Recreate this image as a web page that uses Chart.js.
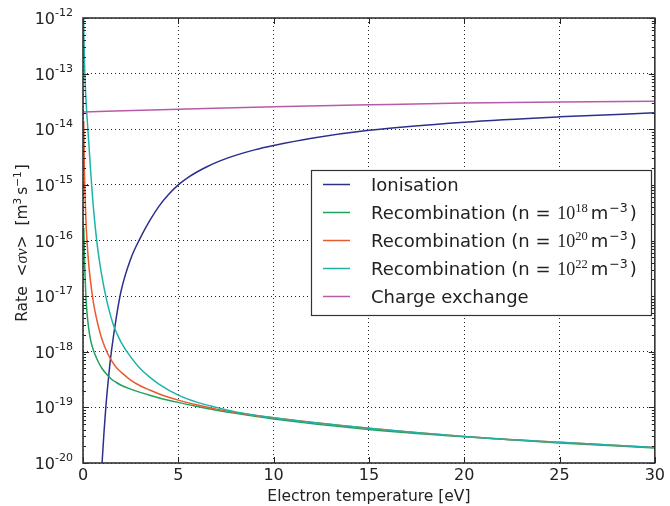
<!DOCTYPE html>
<html lang="en">
<head>
<meta charset="UTF-8">
<script src="https://cdn.jsdelivr.net/npm/chart.js"></script>
<style>
  html, body { margin: 0; padding: 0; background: #fff; }
  canvas { display: block; }
</style>
</head>
<body>
<canvas id="rates" width="670" height="506"></canvas>
<script>
// electron temperature [eV] and rate coefficients <sigma v> [m^3 s^-1]
const ionTemp = [0.95, 1.0, 1.1, 1.2, 1.3, 1.4, 1.5, 1.75, 2, 2.5, 3, 3.5, 4, 4.5, 5, 5.5, 6, 6.5, 7, 7.5, 8, 9, 10,
                 12, 15, 20, 25, 30];
const ionRate = [4.7e-21, 1.0e-20, 3.5e-20, 1.03e-19, 2.5e-19, 5.5e-19, 1.08e-18, 4.2e-18, 1.25e-17, 4.65e-17, 1.1e-16,
                 2.27e-16, 4.2e-16, 6.8e-16, 1.0e-15, 1.35e-15, 1.72e-15, 2.12e-15, 2.54e-15, 2.96e-15, 3.39e-15,
                 4.26e-15, 5.1e-15, 6.9e-15, 9.6e-15, 1.34e-14, 1.67e-14, 1.97e-14];

// recombination, n = 1e18 and 1e20 m^-3
const recTemp = [0.04, 0.06, 0.08, 0.1, 0.15, 0.2, 0.3, 0.4, 0.5, 0.6, 0.8, 1.0, 1.25, 1.5, 1.75, 2, 2.5, 3, 3.5, 4,
                 5, 6, 7, 8, 10, 15, 20, 25, 30];
const rec18 = [1.7e-16, 9.1e-17, 4.6e-17, 2.7e-17, 1.02e-17, 5.5e-18, 2.6e-18, 1.62e-18, 1.2e-18, 9.5e-19, 6.6e-19,
               5.0e-19, 3.9e-19, 3.2e-19, 2.8e-19, 2.5e-19, 2.13e-19, 1.86e-19, 1.65e-19, 1.48e-19, 1.23e-19, 1.04e-19,
               8.9e-20, 7.8e-20, 6.2e-20, 4.0e-20, 2.95e-20, 2.3e-20, 1.86e-20];
const rec20 = [1.4e-14, 3.7e-15, 1.48e-15, 7.6e-16, 2.45e-16, 1.12e-16, 3.8e-17, 1.78e-17, 9.8e-18, 6.0e-18, 2.9e-18,
               1.66e-18, 1.0e-18, 6.9e-19, 5.2e-19, 4.3e-19, 3.1e-19, 2.45e-19, 2.05e-19, 1.74e-19, 1.35e-19, 1.1e-19,
               9.3e-20, 8.1e-20, 6.5e-20, 4.2e-20, 3.0e-20, 2.35e-20, 1.9e-20];

// recombination, n = 1e22 m^-3 (runs off the top of the axis)
const rec22Temp = [0.025, 0.04, 0.07, 0.1, 0.15, 0.2, 0.3, 0.4, 0.5, 0.6, 0.7, 0.8, 0.9, 1.0, 1.2, 1.4, 1.6, 1.8, 2.0,
                   2.5, 3.0, 3.5, 4.0, 5, 6, 7, 8, 10, 15, 20, 25, 30];
const rec22 = [1.9e-12, 6.8e-13, 2.0e-13, 9.1e-14, 3.7e-14, 1.9e-14, 6.0e-15, 1.78e-15, 6.0e-16, 2.45e-16, 1.15e-16,
               6.0e-17, 3.55e-17, 2.2e-17, 9.8e-18, 5.1e-18, 3.0e-18, 2.05e-18, 1.48e-18, 8.1e-19, 5.0e-19, 3.5e-19,
               2.6e-19, 1.66e-19, 1.23e-19, 1.0e-19, 8.3e-20, 6.5e-20, 4.2e-20, 3.0e-20, 2.35e-20, 1.9e-20];

const cxTemp = [0, 5, 10, 15, 20, 25, 30];
const cxRate = [2.05e-14, 2.3e-14, 2.55e-14, 2.75e-14, 2.95e-14, 3.1e-14, 3.2e-14];

// decades shown on the rate axis, and minor tick mantissas
const yExps = [-20, -19, -18, -17, -16, -15, -14, -13, -12];
const minorMant = [2, 3, 4, 5, 6, 7, 8, 9];

const SANS = '"DejaVu Sans", sans-serif';
const SERIF = '"Liberation Serif", serif';

const colors = {
  ion: '#2c2f8b',
  r18: '#1fa25c',
  r20: '#eb5a2c',
  r22: '#1db3ab',
  cx: '#b95aa9'
};

function pts(xs, ys) {
  return xs.map((t, i) => ({ x: t, y: ys[i] }));
}

function series(label, xs, ys, color, order) {
  return {
    label: label,
    data: pts(xs, ys),
    borderColor: color,
    backgroundColor: color,
    borderWidth: 1.5,
    pointRadius: 0,
    showLine: true,
    cubicInterpolationMode: 'monotone',
    order: order
  };
}

// text runs with their own font and baseline shift
function richWidth(ctx, parts) {
  let w = 0;
  parts.forEach(p => { ctx.font = p.font; w += ctx.measureText(p.text).width + (p.gap || 0); });
  return w;
}
function drawRich(ctx, parts, x, y) {
  parts.forEach(p => {
    ctx.font = p.font;
    ctx.fillText(p.text, x, y + (p.dy || 0));
    x += ctx.measureText(p.text).width + (p.gap || 0);
  });
  return x;
}

const legendRows = [
  { color: colors.ion, parts: [{ text: 'Ionisation', font: '18px ' + SANS }] },
  { color: colors.r18, exp: '18' },
  { color: colors.r20, exp: '20' },
  { color: colors.r22, exp: '22' },
  { color: colors.cx, parts: [{ text: 'Charge exchange', font: '18px ' + SANS }] }
];

function densityParts(exp) {
  return [
    { text: 'Recombination (n = ', font: '18px ' + SANS, gap: 1 },
    { text: '10', font: '18px ' + SERIF },
    { text: exp, font: '12.5px ' + SERIF, dy: -7, gap: 3 },
    { text: 'm', font: '18px ' + SANS, gap: 1 },
    { text: '\u22123', font: '12.5px ' + SANS, dy: -7, gap: 2 },
    { text: ')', font: '18px ' + SANS }
  ];
}

const decor = {
  id: 'decor',
  afterDraw(chart) {
    const { ctx, chartArea: a, scales: { x, y } } = chart;
    ctx.save();

    // inward ticks on all four sides
    ctx.strokeStyle = '#222';
    ctx.lineWidth = 1;
    ctx.beginPath();
    yExps.forEach(e => {
      const py = Math.round(y.getPixelForValue(Math.pow(10, e))) + 0.5;
      ctx.moveTo(a.left, py); ctx.lineTo(a.left + 6, py);
      ctx.moveTo(a.right, py); ctx.lineTo(a.right - 6, py);
      if (e < -12) {
        minorMant.forEach(m => {
          const pm = Math.round(y.getPixelForValue(m * Math.pow(10, e))) + 0.5;
          ctx.moveTo(a.left, pm); ctx.lineTo(a.left + 3, pm);
          ctx.moveTo(a.right, pm); ctx.lineTo(a.right - 3, pm);
        });
      }
    });
    x.ticks.forEach(t => {
      const px = Math.round(x.getPixelForValue(t.value)) + 0.5;
      ctx.moveTo(px, a.bottom); ctx.lineTo(px, a.bottom - 6);
      ctx.moveTo(px, a.top); ctx.lineTo(px, a.top + 6);
    });
    ctx.stroke();

    // frame
    ctx.strokeStyle = '#333';
    ctx.lineWidth = 1.6;
    ctx.strokeRect(a.left, a.top, a.right - a.left, a.bottom - a.top);

    // rate axis labels 10^n
    ctx.fillStyle = '#222';
    ctx.textBaseline = 'alphabetic';
    ctx.textAlign = 'left';
    yExps.forEach(e => {
      const py = y.getPixelForValue(Math.pow(10, e));
      const parts = [
        { text: '10', font: '16px ' + SANS },
        { text: '-' + Math.abs(e), font: '11px ' + SANS, dy: -8 }
      ];
      const w = richWidth(ctx, parts);
      drawRich(ctx, parts, a.left - 10 - w, py + 6);
    });

    // rate axis title, rotated
    const title = [
      { text: 'Rate  ', font: '15.5px ' + SANS },
      { text: '<', font: '15.5px ' + SANS },
      { text: '\u03c3v', font: 'italic 16px ' + SERIF },
      { text: '>  [m', font: '15.5px ' + SANS },
      { text: '3', font: '10.5px ' + SANS, dy: -6, gap: 3 },
      { text: 's', font: '15.5px ' + SANS },
      { text: '\u22121', font: '10.5px ' + SANS, dy: -6, gap: 1 },
      { text: ']', font: '15.5px ' + SANS }
    ];
    const tw = richWidth(ctx, title);
    ctx.save();
    ctx.translate(27, 243);
    ctx.rotate(-Math.PI / 2);
    drawRich(ctx, title, -tw / 2, 0);
    ctx.restore();

    // legend box
    const bx = 311, by = 170, bw = 340, bh = 145;
    ctx.fillStyle = '#fff';
    ctx.fillRect(bx, by, bw, bh);
    ctx.strokeStyle = '#333';
    ctx.lineWidth = 1.2;
    ctx.strokeRect(bx + 0.5, by + 0.5, bw, bh);
    legendRows.forEach((row, i) => {
      const cy = 184.5 + i * 28;
      ctx.strokeStyle = row.color;
      ctx.lineWidth = 1.5;
      ctx.beginPath();
      ctx.moveTo(323, cy); ctx.lineTo(350, cy);
      ctx.stroke();
      ctx.fillStyle = '#222';
      drawRich(ctx, row.parts || densityParts(row.exp), 371, cy + 6.5);
    });

    ctx.restore();
  }
};

new Chart(document.getElementById('rates'), {
  type: 'scatter',
  data: {
    datasets: [
      series('Ionisation', ionTemp, ionRate, colors.ion, 5),
      series('Recombination (n = 1e18)', recTemp, rec18, colors.r18, 4),
      series('Recombination (n = 1e20)', recTemp, rec20, colors.r20, 3),
      series('Recombination (n = 1e22)', rec22Temp, rec22, colors.r22, 2),
      series('Charge exchange', cxTemp, cxRate, colors.cx, 1)
    ]
  },
  options: {
    responsive: false,
    animation: false,
    layout: { padding: { left: 83, right: 11, top: 18, bottom: 1.5 } },
    plugins: { legend: { display: false }, tooltip: { enabled: false } },
    scales: {
      x: {
        type: 'linear',
        min: 0,
        max: 30,
        ticks: { stepSize: 5, color: '#222', font: { family: SANS, size: 16, lineHeight: 1 }, padding: 5 },
        grid: { color: 'rgba(0,0,0,0.85)', lineWidth: 1, drawTicks: false },
        border: { display: false, dash: [1, 3] },
        title: {
          display: true,
          text: 'Electron temperature [eV]',
          color: '#222',
          font: { family: SANS, size: 15.5, lineHeight: 1 },
          padding: { top: 0, bottom: 0 }
        }
      },
      y: {
        type: 'logarithmic',
        min: 1e-20,
        max: 1e-12,
        afterBuildTicks: s => { s.ticks = yExps.map(e => ({ value: Math.pow(10, e) })); },
        ticks: { display: false },
        grid: { color: 'rgba(0,0,0,0.85)', lineWidth: 1, drawTicks: false },
        border: { display: false, dash: [1, 3] },
        title: { display: false }
      }
    }
  },
  plugins: [decor]
});
</script>
</body>
</html>
